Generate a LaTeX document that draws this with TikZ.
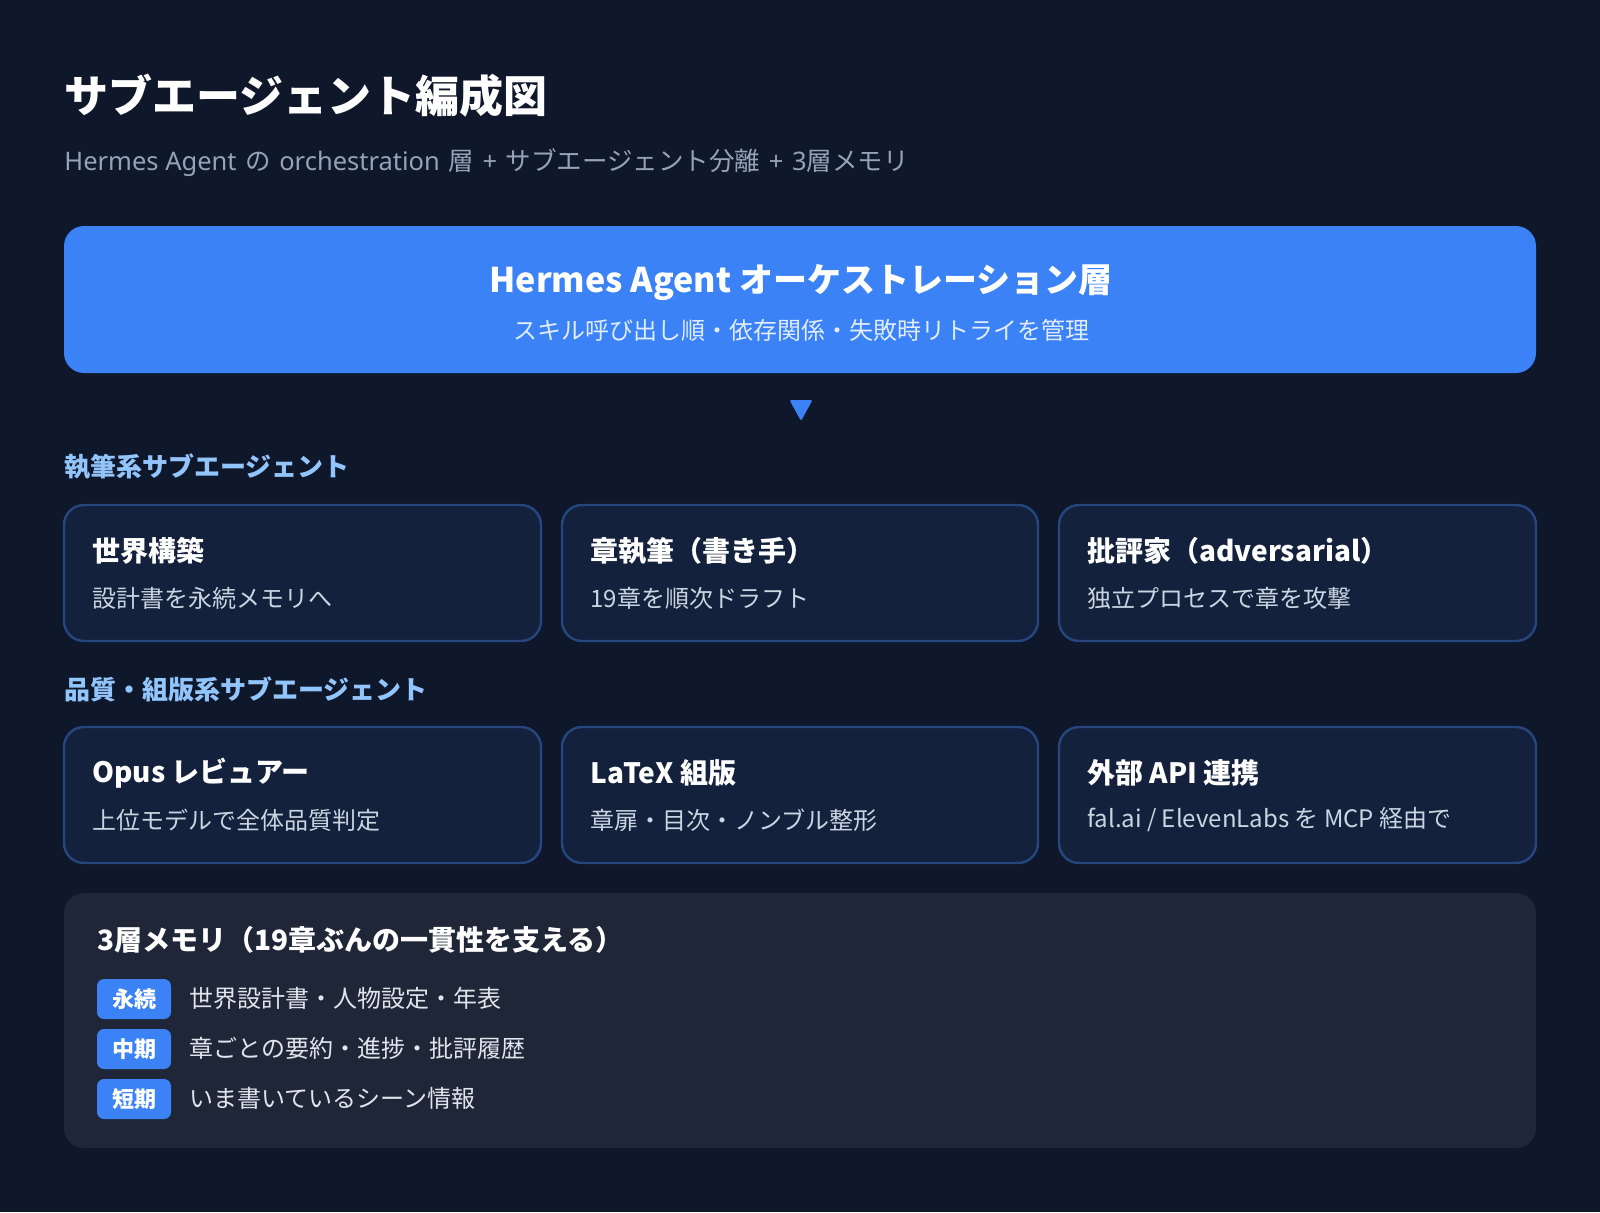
\documentclass[tikz,border=0pt]{standalone}
\usepackage{fontspec}
\setmainfont{Noto Sans CJK JP}
\newfontfamily\latf{Noto Sans}
\definecolor{bgc}{HTML}{0F172A}
\definecolor{blueA}{HTML}{3B82F6}
\definecolor{cardfill}{HTML}{14213D}
\definecolor{cardline}{HTML}{25467F}
\definecolor{memfill}{HTML}{1F2637}
\definecolor{subgray}{HTML}{94A3B8}
\definecolor{cardsub}{HTML}{CBD5E1}
\definecolor{seclabel}{HTML}{93C5FD}
\definecolor{bluesub}{HTML}{E0ECFF}
\newcommand\setfs[1]{\fontsize{#1}{#1}\selectfont}
\newcommand\wsp{\hspace{4.3pt}}
\begin{document}
\begin{tikzpicture}[x=0.5pt,y=-0.5pt,
  txt/.style={inner sep=0pt,anchor=west},
  card/.style={draw=cardline,line width=1.2pt,fill=cardfill,rounded corners=10pt},
  cardtitle/.style={txt,text=white,font=\setfs{14pt}\bfseries},
  cardsubt/.style={txt,text=cardsub,font=\setfs{12pt}},
  seclab/.style={txt,text=seclabel,font=\setfs{13pt}\bfseries},
  badge/.style={fill=blueA,rounded corners=3.5pt},
  badgetxt/.style={inner sep=0pt,text=white,font=\setfs{11pt}\bfseries},
  memtxt/.style={txt,text=cardsub!60!white,font=\setfs{12pt}}]
\useasboundingbox (0,0) rectangle (1600,1212);
\fill[bgc] (0,0) rectangle (1600,1212);

% Title
\node[txt,text=white,font=\setfs{22pt}\bfseries] (title) at (64,96) {サブエージェント編成図};
\node[txt,text=subgray,font=\setfs{12.75pt}] (subtitle) at (64,163) {{\latf Hermes Agent}\wsp の\wsp{\latf orchestration}\wsp 層\wsp{\latf +}\wsp サブエージェント分離\wsp{\latf +}\wsp{\latf 3}層メモリ};

% Orchestration box
\fill[blueA,rounded corners=10pt] (64,226) rectangle (1536,373);
\node[inner sep=0pt,text=white,font=\setfs{17pt}\bfseries] (orch) at (801,283) {Hermes Agent オーケストレーション層};
\node[inner sep=0pt,text=bluesub,font=\setfs{12pt}] (orchsub) at (801,330) {スキル呼び出し順・依存関係・失敗時リトライを管理};

% Arrow triangle
\coordinate (tri) at (801,410);
\fill[blueA,rounded corners=1pt] (789.5,400) -- (812.5,400) -- (801,421) -- cycle;

% Section 1
\node[seclab] (sec1) at (64,467) {執筆系サブエージェント};
\draw[card] (64,505) rectangle (541,641);
\draw[card] (562,505) rectangle (1038,641);
\draw[card] (1059,505) rectangle (1536,641);
\node[cardtitle] (c1t) at (92,551) {世界構築};
\node[cardsubt] (c1s) at (92,598) {設計書を永続メモリへ};
\node[cardtitle] (c2t) at (590,551) {章執筆（書き手）};
\node[cardsubt] (c2s) at (590,598) {19章を順次ドラフト};
\node[cardtitle] (c3t) at (1087,551) {批評家（adversarial）};
\node[cardsubt] (c3s) at (1087,598) {独立プロセスで章を攻撃};

% Section 2
\node[seclab] (sec2) at (64,689) {品質・組版系サブエージェント};
\draw[card] (64,727) rectangle (541,863);
\draw[card] (562,727) rectangle (1038,863);
\draw[card] (1059,727) rectangle (1536,863);
\node[cardtitle] (c4t) at (92,773) {Opus レビュアー};
\node[cardsubt] (c4s) at (92,820) {上位モデルで全体品質判定};
\node[cardtitle] (c5t) at (590,773) {LaTeX 組版};
\node[cardsubt] (c5s) at (590,820) {章扉・目次・ノンブル整形};
\node[cardtitle] (c6t) at (1087,773) {外部 API 連携};
\node[cardsubt] (c6s) at (1087,820) {fal.ai / ElevenLabs を MCP 経由で};

% Memory
\fill[memfill,rounded corners=10pt] (64,893) rectangle (1536,1148);
\node[cardtitle] (memt) at (97,940) {3層メモリ（19章ぶんの一貫性を支える）};
\fill[badge] (97,979) rectangle (171,1019);
\fill[badge] (97,1029) rectangle (171,1069);
\fill[badge] (97,1079) rectangle (171,1119);
\node[badgetxt] (b1) at (134,999) {永続};
\node[badgetxt] (b2) at (134,1049) {中期};
\node[badgetxt] (b3) at (134,1099) {短期};
\node[memtxt] (m1) at (189,998) {世界設計書・人物設定・年表};
\node[memtxt] (m2) at (189,1048) {章ごとの要約・進捗・批評履歴};
\node[memtxt] (m3) at (189,1098) {いま書いているシーン情報};
\end{tikzpicture}
\end{document}
